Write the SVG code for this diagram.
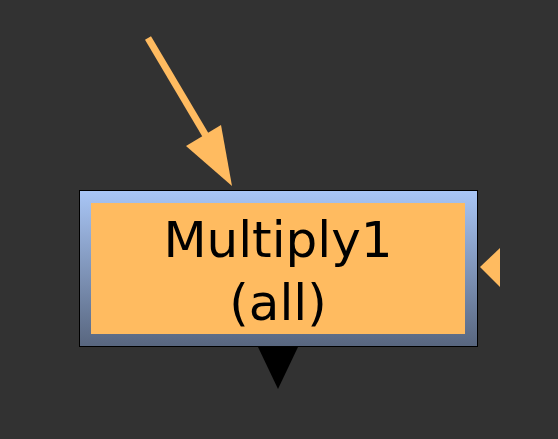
<svg xmlns="http://www.w3.org/2000/svg" width="558" height="439" viewBox="0 0 558 439">
<defs>
<linearGradient id="g" x1="0" y1="0" x2="0" y2="1">
<stop offset="0" stop-color="#a9c6f6"/>
<stop offset="1" stop-color="#58667f"/>
</linearGradient>
<style>
.lbl{font-family:"DejaVu Sans",sans-serif;font-size:50px;fill:#000;text-anchor:middle}
.or{fill:#ffbb60}
</style>
</defs>
<rect width="558" height="439" fill="#323232"/>
<g id="connectors">
<line x1="148" y1="38" x2="212" y2="146" stroke="#ffbb60" stroke-width="7"/>
<polygon class="or" points="232,186 186,146 221,125"/>
</g>
<g id="node-multiply1">
<rect x="79.5" y="190.5" width="398" height="156" fill="url(#g)" stroke="#000" stroke-width="1"/>
<rect x="91" y="203" width="374" height="131" class="or"/>
<text class="lbl" x="278" y="257">Multiply1</text>
<text class="lbl" x="278" y="320">(all)</text>
<polygon class="or" points="480,267 500,248 500,287"/>
<polygon fill="#000" points="258,347 298,347 278,389"/>
</g>
</svg>
